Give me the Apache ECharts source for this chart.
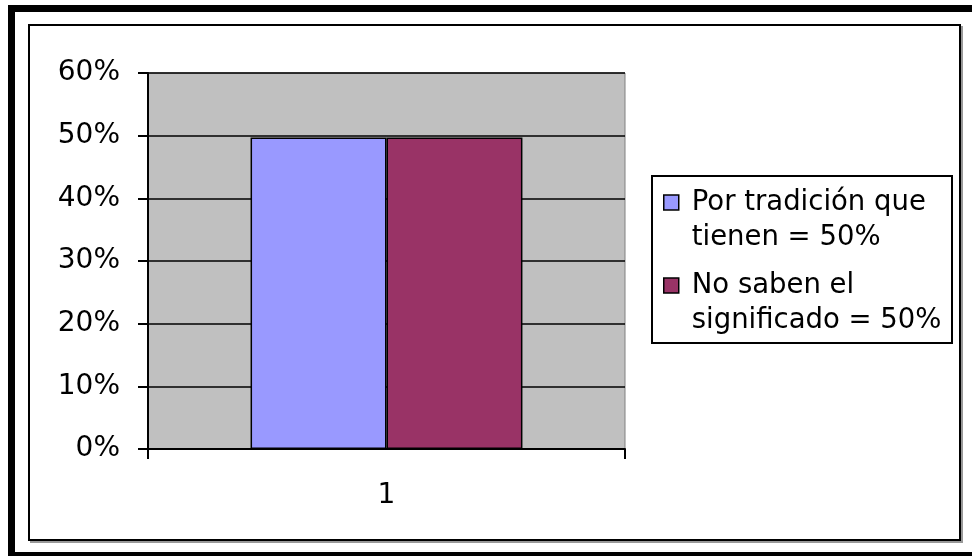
<!DOCTYPE html>
<html>
<head>
<meta charset="utf-8">
<script src="https://cdn.jsdelivr.net/npm/echarts@6/dist/echarts.min.js"></script>
<style>
html,body{margin:0;padding:0;background:#fff;}
#chart{width:972px;height:556px;}
</style>
</head>
<body>
<div id="chart"></div>
<script>
// ---- data ----
var categories = ['1'];
var seriesNames = ['Por tradición que\ntienen = 50%', 'No saben el\nsignificado = 50%'];
var seriesValues = [[49.7], [49.7]];
var seriesColors = ['#9999FF', '#993366'];
var yTicks = { min: 0, max: 60, interval: 10 };

var FONT = 'DejaVu Sans';
var chart = echarts.init(document.getElementById('chart'), null, { renderer: 'canvas' });

var series = seriesNames.map(function (name, i) {
  return {
    name: name,
    type: 'bar',
    data: seriesValues[i],
    barGap: '0%',
    barCategoryGap: '43%',
    itemStyle: { color: seriesColors[i], borderColor: '#000', borderWidth: 1.5 },
    emphasis: { disabled: true },
    animation: false
  };
});

chart.setOption({
  animation: false,
  backgroundColor: '#fff',
  graphic: [
    { type: 'rect', silent: true, z: -10,
      shape: { x: 11.5, y: 8.5, width: 990, height: 547 },
      style: { fill: '#fff', stroke: '#000', lineWidth: 7 } },
    { type: 'rect', silent: true, z: -9,
      shape: { x: 31, y: 27, width: 931, height: 515 },
      style: { fill: 'none', stroke: '#999', lineWidth: 2 } },
    { type: 'rect', silent: true, z: -8,
      shape: { x: 29, y: 25, width: 931, height: 515 },
      style: { fill: '#fff', stroke: '#000', lineWidth: 2 } },
    { type: 'rect', silent: true, z: -7,
      shape: { x: 652, y: 176, width: 300, height: 167 },
      style: { fill: '#fff', stroke: '#000', lineWidth: 2 } }
  ],
  grid: {
    left: 148, right: 347, top: 73, bottom: 107,
    show: true, backgroundColor: '#C0C0C0', borderColor: '#808080', borderWidth: 1
  },
  xAxis: {
    type: 'category',
    data: categories,
    axisLine: { lineStyle: { color: '#000', width: 2 } },
    axisTick: { show: true, length: 10, lineStyle: { color: '#000', width: 2 } },
    axisLabel: { color: '#000', fontFamily: FONT, fontSize: 28, margin: 33 }
  },
  yAxis: {
    type: 'value',
    min: yTicks.min, max: yTicks.max, interval: yTicks.interval,
    axisLine: { show: true, lineStyle: { color: '#000', width: 2 } },
    axisTick: { show: true, length: 10, lineStyle: { color: '#000', width: 2 } },
    axisLabel: { color: '#000', fontFamily: FONT, fontSize: 28, margin: 28, formatter: '{value}%' },
    splitLine: { show: true, lineStyle: { color: '#000', width: 1.5 } }
  },
  legend: {
    orient: 'vertical',
    left: 663, top: 150,
    padding: 0,
    itemGap: -22,
    itemWidth: 15, itemHeight: 15,
    icon: 'rect',
    selectedMode: false,
    itemStyle: { borderColor: '#000', borderWidth: 1.5 },
    formatter: function (name) { return '\n' + name; },
    textStyle: { color: '#000', fontFamily: FONT, fontSize: 27.5, lineHeight: 35, padding: [0, 0, 0, 8] },
    data: seriesNames
  },
  series: series
});
</script>
</body>
</html>
